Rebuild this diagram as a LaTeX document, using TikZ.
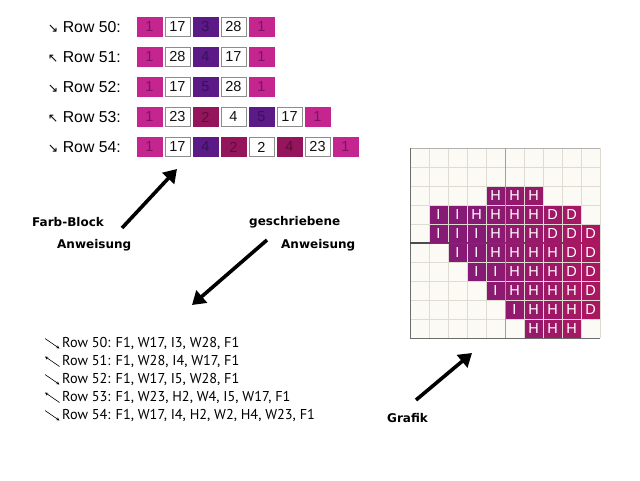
\documentclass[tikz,border=0pt]{standalone}
\usepackage{fontspec}
\setmainfont{Liberation Sans}
\newfontfamily\dvfont{DejaVu Sans}
\newfontfamily\ptfont{PT Sans}
\usetikzlibrary{arrows.meta}
\definecolor{cF}{HTML}{C4258F}
\definecolor{tF}{HTML}{7A1560}
\definecolor{dF}{HTML}{C4258F}
\definecolor{cI}{HTML}{5B1A86}
\definecolor{tI}{HTML}{3A0F5E}
\definecolor{dI}{HTML}{5B1A86}
\definecolor{cH}{HTML}{94155C}
\definecolor{tH}{HTML}{5E0C3A}
\definecolor{dH}{HTML}{94155C}
\definecolor{cW}{HTML}{FFFFFF}
\definecolor{tW}{HTML}{111111}
\definecolor{dW}{HTML}{8C8C8C}
\definecolor{gI}{HTML}{5C1B88}
\definecolor{gL}{HTML}{861A74}
\definecolor{gR}{HTML}{AE175E}
\definecolor{cream}{HTML}{FBFAF4}
\definecolor{gline}{HTML}{DDDBD2}
\tikzset{
  x=1pt, y=-1pt,
  blk/.style={minimum width=25pt, minimum height=19pt, inner sep=0pt,
    font=\fontsize{14.5}{14.5}\selectfont},
  rowlab/.style={anchor=east, inner sep=0pt, font=\fontsize{15.8}{15.8}\selectfont},
  cell/.style={minimum size=18pt, inner sep=0pt, text=white,
    font=\fontsize{14.5}{14.5}\selectfont},
  wrow/.style={anchor=base west, inner sep=0pt, font=\ptfont\fontsize{14.3}{14.3}\selectfont},
  small/.style={line width=0.6pt, -{Stealth[length=3.2pt,width=3pt]}},
  big/.style={line width=3.6pt, -{Triangle[length=13pt,width=16pt]}},
  lbl/.style={anchor=west, inner sep=0pt, font=\dvfont\bfseries\fontsize{12}{12}\selectfont}
}
\begin{document}
\begin{tikzpicture}
\useasboundingbox (0,0) rectangle (640,480);
\fill[white] (0,0) rectangle (640,480);
% colour-block rows
\foreach \r/\n/\ar/\items in {
  0/50/↘/{F/1,W/17,I/3,W/28,F/1},
  1/51/↖/{F/1,W/28,I/4,W/17,F/1},
  2/52/↘/{F/1,W/17,I/5,W/28,F/1},
  3/53/↖/{F/1,W/23,H/2,W/4,I/5,W/17,F/1},
  4/54/↘/{F/1,W/17,I/4,H/2,W/2,H/4,W/23,F/1}}{
  \node[rowlab] (lab\n) at (121,{27+30*\r}) {{\dvfont\fontsize{12.5}{12.5}\selectfont\ar} Row \n:};
  \foreach \t/\v [count=\i from 0] in \items {
    \node[blk, fill=c\t, draw=d\t, text=t\t] (b\n-\i) at ({149.5+28*\i},{27+30*\r}) {\v};
  }
}
% chart grid
\fill[cream] (410,148) rectangle (600,338);
\foreach \k in {1,...,9} {
  \draw[gline, line width=0.6pt] ({410+19*\k},148) -- ({410+19*\k},338);
  \draw[gline, line width=0.6pt] (410,{148+19*\k}) -- (600,{148+19*\k});
}
\draw[gray!60, line width=0.7pt] (410,148) -- (600,148);
\draw[gline, line width=0.7pt] (600,148) -- (600,338);
\draw[gray!85!black, line width=0.9pt] (410,148) -- (410,338) -- (600,338);
\draw[gray!75, line width=0.9pt] (505,148) -- (505,338);
\draw[black!70, line width=1.2pt] (410,243) -- (600,243);
\foreach \rr/\sc/\cells in {
  2/4/{H,H,H},
  3/1/{I,I,H,H,H,H,D,D},
  4/1/{I,I,I,H,H,H,D,D,D},
  5/2/{I,I,H,H,H,H,D,D},
  6/3/{I,I,H,H,H,D,D},
  7/4/{I,H,H,H,H,D},
  8/5/{I,H,H,H,D},
  9/6/{H,H,H}}{
  \foreach \L [count=\j from 0] in \cells {
    \pgfmathtruncatemacro\cc{\sc+\j}
    \pgfmathtruncatemacro\pp{max(0,min(100,100-(\cc-3)*15))}
    \ifx\L I
      \node[cell, fill=gI] (g\rr-\cc) at ({410+19*\cc+9.5},{148+19*\rr+9.5}) {\L};
    \else
      \node[cell, fill=gL!\pp!gR] (g\rr-\cc) at ({410+19*\cc+9.5},{148+19*\rr+9.5}) {\L};
    \fi
  }
}
% written rows
\foreach \r/\txt in {
  0/{Row 50: F1, W17, I3, W28, F1},
  1/{Row 51: F1, W28, I4, W17, F1},
  2/{Row 52: F1, W17, I5, W28, F1},
  3/{Row 53: F1, W23, H2, W4, I5, W17, F1},
  4/{Row 54: F1, W17, I4, H2, W2, H4, W23, F1}}{
  \node[wrow] (w\r) at (62,{347+18*\r}) {\txt};
  \coordinate (p\r) at (45,{338.5+18*\r});
  \coordinate (q\r) at (59.5,{348.5+18*\r});
}
\draw[small] (p0) -- (q0);
\draw[small] (q1) -- (p1);
\draw[small] (p2) -- (q2);
\draw[small] (q3) -- (p3);
\draw[small] (p4) -- (q4);
% labels and big arrows
\node[lbl] (fb) at (32,222) {Farb-Block};
\node[lbl] (an1) at (57,245) {Anweisung};
\node[lbl] (gs) at (249,222) {geschriebene};
\node[lbl] (an2) at (281,245) {Anweisung};
\node[lbl] (gr) at (387,418) {Grafik};
\coordinate (a1s) at (122,228);
\coordinate (a1e) at (177,169);
\coordinate (a2s) at (267,240);
\coordinate (a2e) at (192,305);
\coordinate (a3s) at (416,400);
\coordinate (a3e) at (472,353);
\draw[big] (a1s) -- (a1e);
\draw[big] (a2s) -- (a2e);
\draw[big] (a3s) -- (a3e);
\end{tikzpicture}
\end{document}
